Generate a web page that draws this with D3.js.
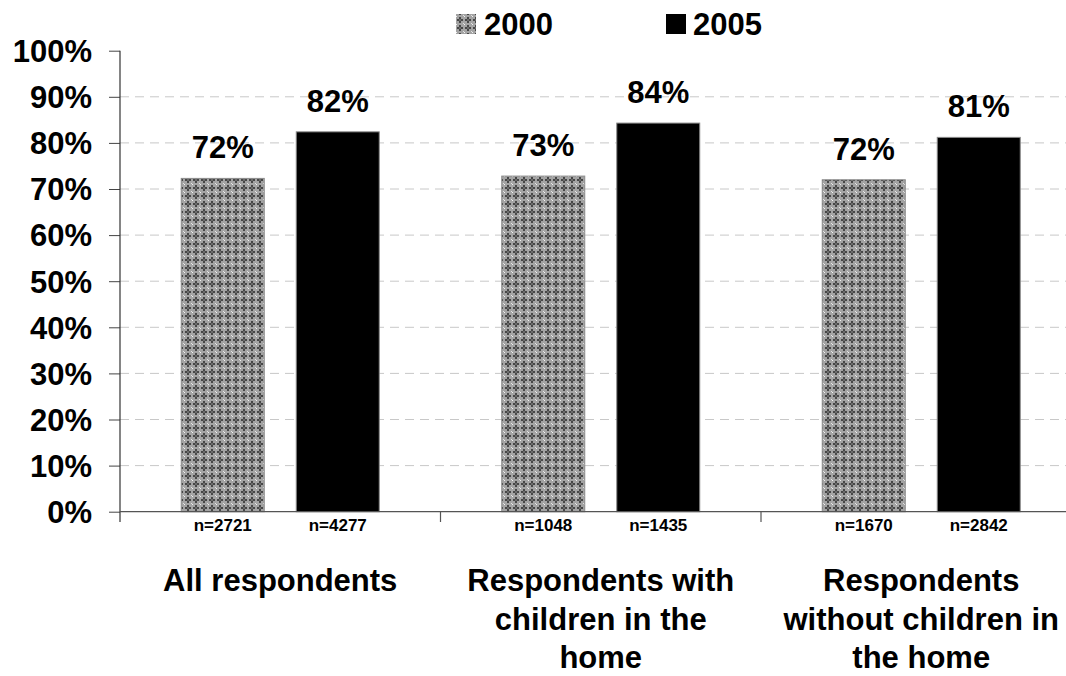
<!DOCTYPE html>
<html>
<head>
<meta charset="utf-8">
<script src="https://cdn.jsdelivr.net/npm/d3@7"></script>
<style>
  html, body { margin: 0; padding: 0; background: #fff; }
  svg { display: block; font-family: "Liberation Sans", Arial, sans-serif; font-weight: bold; }
</style>
</head>
<body>
<svg id="chart" width="1066" height="676"></svg>
<script>
// Share of respondents, by survey year
const categories = [
  ["All respondents"],
  ["Respondents with", "children in the", "home"],
  ["Respondents", "without children in", "the home"]
];
const categoryKeys = ["all", "withChildren", "withoutChildren"];
const seriesNames = ["2000", "2005"];
const values2000 = [0.723, 0.728, 0.720];
const values2005 = [0.824, 0.843, 0.812];
const sampleSizes2000 = [2721, 1048, 1670];
const sampleSizes2005 = [4277, 1435, 2842];
const yTicks = [0, 0.1, 0.2, 0.3, 0.4, 0.5, 0.6, 0.7, 0.8, 0.9, 1.0];

const svg = d3.select("#chart");
const W = 1066;

// hatched fill used for the 2000 series
const defs = svg.append("defs");
const pat = defs.append("pattern")
  .attr("id", "grid2000")
  .attr("patternUnits", "userSpaceOnUse")
  .attr("width", 8).attr("height", 8);
pat.append("rect").attr("width", 8).attr("height", 8).attr("fill", "#a3a3a3");
pat.append("rect").attr("x", 3).attr("y", 1).attr("width", 2).attr("height", 6).attr("fill", "#474747");
pat.append("rect").attr("x", 1).attr("y", 3).attr("width", 6).attr("height", 2).attr("fill", "#474747");
pat.append("rect").attr("x", 0).attr("y", 0).attr("width", 1).attr("height", 1).attr("fill", "#f2f2f2");
pat.append("rect").attr("x", 7).attr("y", 7).attr("width", 1).attr("height", 1).attr("fill", "#e0e0e0");
pat.append("rect").attr("x", 3.5).attr("y", 3.5).attr("width", 1).attr("height", 1).attr("fill", "#d9d9d9");

const fills = { "2000": "url(#grid2000)", "2005": "#000" };

const y = d3.scaleLinear().domain([0, 1]).range([511.7, 50.7]);
const x0 = d3.scaleBand().domain(categoryKeys).range([120, 120 + 3 * 320.5]).padding(0);

function seriesScale(key) {
  const c = x0(key) + x0.bandwidth() / 2;
  return d3.scaleBand().domain(seriesNames).range([c - 99, c + 99]).paddingInner(32 / 115).paddingOuter(0);
}

// gridlines
svg.append("g")
  .selectAll("line")
  .data(yTicks.filter(t => t > 0 && t < 1))
  .join("line")
  .attr("x1", 120).attr("x2", W)
  .attr("y1", d => y(d)).attr("y2", d => y(d))
  .attr("stroke", "#c8c8c8").attr("stroke-width", 1)
  .attr("stroke-dasharray", "9,6");

// y axis
const yAxis = svg.append("g")
  .attr("transform", "translate(120,0)")
  .call(d3.axisLeft(y).tickValues(yTicks).tickFormat(d3.format(".0%")).tickSize(11).tickSizeOuter(0));
yAxis.select(".domain").remove();
yAxis.selectAll(".tick line").attr("stroke", "#444");
yAxis.selectAll(".tick text")
  .attr("x", -28).attr("dy", "0.35em")
  .attr("font-size", 31).attr("font-family", "Liberation Sans, Arial, sans-serif")
  .attr("font-weight", "bold").attr("fill", "#000");
svg.append("line")
  .attr("x1", 120).attr("x2", 120)
  .attr("y1", y(1)).attr("y2", 522)
  .attr("stroke", "#333").attr("stroke-width", 1.2);

// bars
const rows = categoryKeys.map((k, i) => ({
  key: k,
  items: [
    { s: "2000", v: values2000[i], n: sampleSizes2000[i] },
    { s: "2005", v: values2005[i], n: sampleSizes2005[i] }
  ]
}));

const groups = svg.append("g").selectAll("g")
  .data(rows).join("g");

groups.each(function (row) {
  const xs = seriesScale(row.key);
  const g = d3.select(this);
  g.selectAll("rect")
    .data(row.items).join("rect")
    .attr("x", d => xs(d.s))
    .attr("width", xs.bandwidth())
    .attr("y", d => y(d.v))
    .attr("height", d => y(0) - y(d.v))
    .attr("fill", d => fills[d.s])
    .attr("stroke", "#8a8a8a").attr("stroke-width", 1);
  g.selectAll("text.val")
    .data(row.items).join("text")
    .attr("class", "val")
    .attr("x", d => xs(d.s) + xs.bandwidth() / 2)
    .attr("y", d => y(d.v) - 20)
    .attr("text-anchor", "middle")
    .attr("font-size", 31)
    .text(d => d3.format(".0%")(d.v));
  g.selectAll("text.n")
    .data(row.items).join("text")
    .attr("class", "n")
    .attr("x", d => xs(d.s) + xs.bandwidth() / 2)
    .attr("y", 531)
    .attr("text-anchor", "middle")
    .attr("font-size", 17)
    .text(d => "n=" + d.n);
});

// x axis line and group separators
svg.append("line")
  .attr("x1", 120).attr("x2", W)
  .attr("y1", y(0)).attr("y2", y(0))
  .attr("stroke", "#555").attr("stroke-width", 1.2);
svg.append("g").selectAll("line")
  .data(categoryKeys.slice(1))
  .join("line")
  .attr("x1", d => x0(d)).attr("x2", d => x0(d))
  .attr("y1", y(0)).attr("y2", 522)
  .attr("stroke", "#555").attr("stroke-width", 1.2);

// category labels
svg.append("g").selectAll("text")
  .data(categoryKeys)
  .join("text")
  .attr("text-anchor", "middle")
  .attr("font-size", 31)
  .each(function (k, i) {
    const t = d3.select(this);
    const cx = x0(k) + x0.bandwidth() / 2;
    categories[i].forEach((line, j) => {
      t.append("tspan").attr("x", cx).attr("y", 591 + j * 38.5).text(line);
    });
  });

// legend
const legendPos = [{ sx: 456, tx: 484 }, { sx: 666, tx: 693 }];
const legend = svg.append("g").selectAll("g")
  .data(seriesNames).join("g");
legend.append("rect")
  .attr("x", (d, i) => legendPos[i].sx)
  .attr("y", 14)
  .attr("width", 20).attr("height", 20)
  .attr("fill", d => fills[d]);
legend.append("text")
  .attr("x", (d, i) => legendPos[i].tx)
  .attr("y", 35)
  .attr("font-size", 31)
  .text(d => d);
</script>
</body>
</html>
